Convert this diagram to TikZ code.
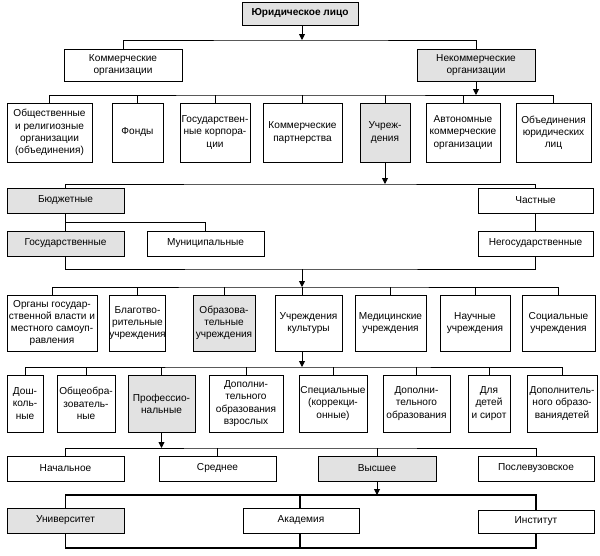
\documentclass[tikz,border=0pt]{standalone}
\usepackage{fontspec}
\setmainfont{Liberation Sans}
\usetikzlibrary{arrows.meta}
\definecolor{boxgray}{RGB}{226,226,226}
\tikzset{
  box/.style={draw=black, line width=0.9pt, fill=white, inner sep=0pt, align=center,
    font=\fontsize{10.1}{12.2}\selectfont},
  sel/.style={fill=boxgray},
  conn/.style={line width=0.9pt},
  thick conn/.style={line width=1.2pt},
  arr/.style={line width=0.9pt, -{Triangle[width=6pt,length=6pt]}}
}
\newcommand\bx[7][]{\node[box,#1,minimum width={#4-#2},minimum height={#5-#3}] (#6) at ({(#2+#4)/2},{(#3+#5)/2}) {#7};}
\begin{document}
\begin{tikzpicture}[x=1pt,y=-1pt]
\useasboundingbox (0,0) rectangle (600,555);
% bus coordinates
\coordinate (b1) at (302,40);
\coordinate (b2) at (300,95);
\coordinate (b3) at (300,184);
\coordinate (b5) at (302,269);
\coordinate (b6) at (302,287);
\coordinate (b7) at (302,367);
\coordinate (b8) at (300,448);
\coordinate (b9) at (300,495);
\coordinate (b10) at (300,548);
% level 0-1
\bx[sel,font=\fontsize{10.1}{12.2}\selectfont\bfseries]{242}{2}{358}{25}{J}{Юридическое лицо}
\bx{64}{49}{182}{81}{K}{Коммерческие\\организации}
\bx[sel]{417}{49}{535}{81}{N}{Некоммерческие\\организации}
% level 2
\bx{7}{103}{92}{162}{A1}{Общественные\\и религиозные\\организации\\(объединения)}
\bx{112}{103}{163}{162}{A2}{Фонды}
\bx{180}{103}{250}{162}{A3}{Государствен-\\ные корпора-\\ции}
\bx{263}{103}{342}{162}{A4}{Коммерческие\\партнерства}
\bx[sel]{360}{103}{410}{162}{A5}{Учреж-\\дения}
\bx{426}{103}{500}{162}{A6}{Автономные\\коммерческие\\организации}
\bx{516}{103}{591}{162}{A7}{Объединения\\юридических\\лиц}
% level 3
\bx[sel]{7}{188}{124}{213}{B1}{Бюджетные}
\bx{478}{188}{593}{213}{B2}{Частные}
\bx[sel]{7}{231}{124}{256}{C1}{Государственные}
\bx{147}{231}{264}{256}{C2}{Муниципальные}
\bx{478}{231}{593}{256}{C3}{Негосударственные}
% level 4
\bx{7}{295}{97}{351}{D1}{Органы государ-\\ственной власти и\\местного самоуп-\\равления}
\bx{112}{295}{163}{351}{D2}{Благотво-\\рительные\\учреждения}
\bx[sel]{193}{295}{255}{351}{D3}{Образова-\\тельные\\учреждения}
\bx{275}{295}{342}{351}{D4}{Учреждения\\культуры}
\bx{355}{295}{426}{351}{D5}{Медицинские\\учреждения}
\bx{440}{295}{510}{351}{D6}{Научные\\учреждения}
\bx{522}{295}{595}{351}{D7}{Социальные\\учреждения}
% level 5
\bx{7}{375}{43}{432}{E1}{Дош-\\коль-\\ные}
\bx{57}{375}{115}{432}{E2}{Общеобра-\\зователь-\\ные}
\bx[sel]{128}{375}{195}{432}{E3}{Профессио-\\нальные}
\bx{209}{375}{283}{432}{E4}{Дополни-\\тельного\\образования\\взрослых}
\bx{299}{375}{367}{432}{E5}{Специальные\\(коррекци-\\онные)}
\bx{383}{375}{450}{432}{E6}{Дополни-\\тельного\\образования}
\bx{468}{375}{510}{432}{E7}{Для\\детей\\и сирот}
\bx{527}{375}{597}{432}{E8}{Дополнитель-\\ного образо-\\ваниядетей}
% level 6
\bx{7}{456}{124}{481}{F1}{Начальное}
\bx{159}{456}{276}{481}{F2}{Среднее}
\bx[sel]{318}{456}{436}{481}{F3}{Высшее}
\bx{478}{456}{594}{481}{F4}{Послевузовское}
% level 7
\bx[sel]{7}{508}{124}{533}{G1}{Университет}
\bx{243}{508}{359}{533}{G2}{Академия}
\bx{478}{510}{594}{533}{G3}{Институт}
% connectors
\draw[arr] (J.south -| b1) -- (b1);
\draw[conn] (K.north) |- (b1) -| (N.north);
\draw[arr] (N.south) -- (N.south |- b2);
\draw[conn] (A1.north) |- (b2) -| (A7.north);
\foreach \n in {A2,A3,A4,A5,A6} \draw[conn] (\n.north) -- (\n.north |- b2);
\draw[arr] (A5.south) -- (A5.south |- b3);
\draw[conn] (B1.north) |- (b3) -| (B2.north);
\draw[conn] (B1.south) -- (C1.north);
\path (B1.south) ++(0,9) coordinate (b4);
\draw[conn] (b4) -| (C2.north);
\draw[conn] (B2.south) -- (C3.north);
\draw[conn] (C1.south) |- (b5) -| (C3.south);
\draw[arr] (b5) -- (b6);
\draw[conn] (D1.north) |- (b6) -| (D7.north);
\foreach \n in {D2,D3,D5,D6} \draw[conn] (\n.north) -- (\n.north |- b6);
\draw[conn] (D4.north -| b6) -- (b6);
\draw[arr] (D4.south -| b7) -- (b7);
\draw[conn] (E1.north) |- (b7) -| (E8.north);
\foreach \n in {E2,E3,E4,E5,E6,E7} \draw[conn] (\n.north) -- (\n.north |- b7);
\draw[arr] (E3.south) -- (E3.south |- b8);
\draw[conn] (F1.north) |- (b8) -| (F4.north);
\foreach \n in {F2,F3} \draw[conn] (\n.north) -- (\n.north |- b8);
\draw[arr] (F3.south) -- (F3.south |- b9);
\draw[thick conn] (G1.north) |- (b9) -| (G3.north);
\draw[thick conn] (G2.north -| b9) -- (b9);
\draw[thick conn] (G1.south) |- (b10) -| (G3.south);
\draw[thick conn] (G2.south -| b10) -- (b10);
\end{tikzpicture}
\end{document}
